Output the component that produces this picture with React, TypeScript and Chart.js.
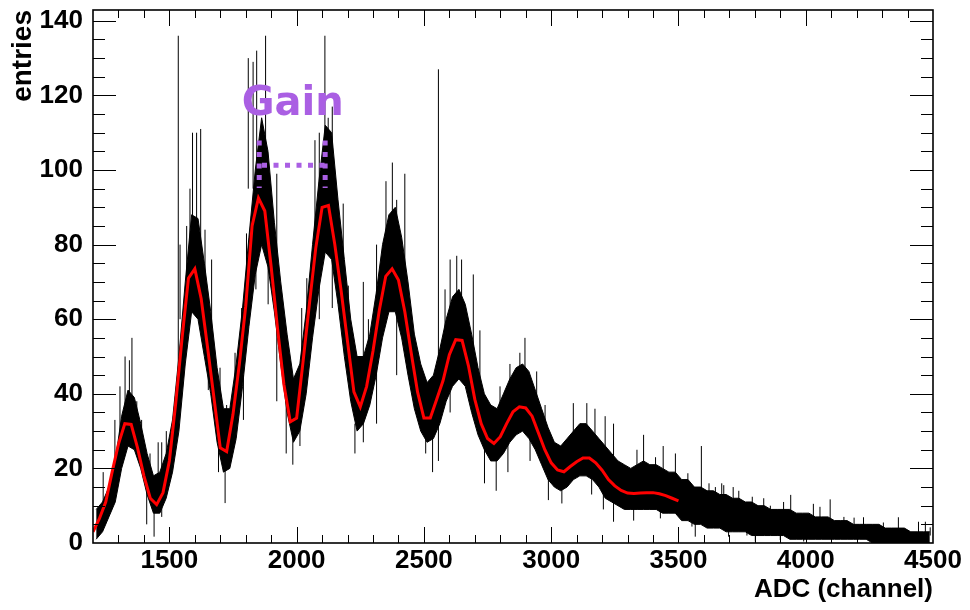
import React, { useEffect, useRef } from 'react';
import { Chart, registerables } from 'chart.js';

Chart.register(...registerables);

// ---------- axes ----------
const X_MIN = 1200;
const X_MAX = 4500;
const Y_MIN = 0;
const Y_MAX = 142.9;
const X_TICKS = [1500, 2000, 2500, 3000, 3500, 4000, 4500];
const Y_TICKS = [0, 20, 40, 60, 80, 100, 120, 140];
const X_MINOR_STEP = 100;
const X_MAJOR_STEP = 500;
const Y_MINOR_STEP = 5;
const Y_MAJOR_STEP = 20;
const X_TITLE = 'ADC (channel)';
const Y_TITLE = 'entries';

// ---------- histogram: envelope of the noisy spectrum, 25-channel bins from 1200 ----------
const BIN_START = 1200;
const BIN_WIDTH = 25;
const bandLow = [
  1, 3, 7, 11, 20, 26, 25, 20, 13, 8,
  8, 12, 19, 30, 48, 62, 60, 50, 40, 27,
  19, 20, 28, 42, 58, 72, 80, 74, 62, 48,
  35, 27, 30, 40, 55, 68, 78, 76, 64, 50,
  38, 30, 32, 37, 45, 55, 62, 62, 55, 45,
  36, 30, 27, 28, 32, 38, 42, 44, 42, 35,
  29, 25, 22, 22, 24, 27, 29, 30, 28, 25,
  21, 17, 15, 14, 15, 17, 18, 18, 17, 15,
  12, 11, 10, 9, 9, 9, 9, 9, 9, 8,
  8, 8, 6, 6, 5, 5, 4, 4, 4, 3,
  3, 3, 3, 2, 2, 2, 2, 2, 2, 1,
  1, 1, 1, 1, 1, 1, 1, 1, 1, 1,
  1, 1, 0, 0, 0, 0, 0, 0, 0, 0,
  0, 0,
];
const bandHigh = [
  9, 11, 15, 22, 34, 41, 39, 32, 24, 18,
  19, 24, 33, 50, 70, 88, 87, 75, 62, 47,
  36, 36, 48, 63, 82, 100, 114, 105, 86, 70,
  56, 44, 48, 62, 80, 97, 112, 110, 92, 76,
  60, 50, 50, 56, 67, 80, 88, 90, 82, 70,
  56, 48, 43, 45, 52, 60, 66, 68, 64, 56,
  47, 40, 37, 36, 40, 44, 47, 48, 46, 41,
  36, 31, 27, 26, 28, 30, 32, 32, 30, 28,
  26, 24, 22, 21, 20, 21, 22, 21, 21, 20,
  19, 19, 17, 17, 15, 15, 14, 14, 13, 13,
  12, 12, 11, 11, 10, 10, 9, 9, 9, 9,
  8, 8, 8, 7, 7, 7, 6, 6, 6, 5,
  5, 5, 5, 5, 4, 4, 4, 4, 3, 3,
  3, 3,
];

// ---------- single-channel spikes sticking out of the envelope ----------
const spikeChannel = [
  1240, 1286, 1306, 1326, 1343, 1353, 1372, 1391, 1411, 1424,
  1440, 1456, 1470, 1488, 1535, 1542, 1568, 1581, 1591, 1607,
  1623, 1640, 1653, 1666, 1693, 1699, 1719, 1725, 1758, 1784,
  1791, 1803, 1810, 1829, 1840, 1843, 1878, 1888, 1922, 1959,
  1985, 2013, 2020, 2040, 2072, 2089, 2111, 2124, 2140, 2183,
  2203, 2229, 2262, 2282, 2314, 2351, 2376, 2393, 2425, 2472,
  2507, 2534, 2557, 2583, 2603, 2629, 2648, 2694, 2720, 2738,
  2784, 2799, 2830, 2838, 2877, 2897, 2917, 2943, 2976, 2989,
  3042, 3087, 3140, 3159, 3172, 3205, 3212, 3245, 3324, 3337,
  3363, 3410, 3429, 3440, 3488, 3537, 3553, 3566, 3590, 3620,
  3645, 3670, 3678, 3697, 3715, 3737, 3769, 3790, 3802, 3835,
  3861, 3900, 3913, 3941, 3992, 4030, 4056, 4096, 4150, 4190,
  4227, 4305, 4364, 4443, 4470, 4489,
];
const spikeLow = [
  8, 18, 28, 35, 36, 38, 30, 24, 5, 17,
  1.7, 18, 7, 22, 40, 60, 68, 80, 85, 85,
  75, 70, 41, 55, 19, 35, 10.7, 30, 40, 50,
  33, 70, 95, 95, 68, 100, 95, 64, 38, 24,
  21, 26, 48, 55, 80, 60, 95, 90, 63, 75,
  55, 24, 27, 50, 32, 75, 80, 45, 60, 42,
  24, 19, 22, 50, 35, 55, 55, 50, 38, 16,
  14, 35, 19, 40, 40, 40, 22, 36, 28, 11.5,
  10.6, 25, 25, 13, 25, 9, 22, 5.7, 6, 18,
  18, 18, 6.6, 18, 17, 14, 4.4, 1.7, 12, 5,
  11, 5, 11, 1.7, 4, 10, 2, 3, 0.4, 2,
  7, 0.8, 7, 7, 0.4, 2, 6, 5, 2, 1,
  4, 1, 3, 2, 1, 2,
];
const spikeHigh = [
  19, 33, 42, 50, 49, 55, 38, 33, 14, 24,
  10, 27, 27, 30, 136, 80, 85, 95, 110, 110,
  111, 84, 55, 76, 30, 47, 22, 37, 51, 63,
  45, 83, 130, 129, 82, 132, 136, 76, 99, 40,
  30, 35, 63, 71, 108, 110, 136, 114, 117, 91,
  69, 32, 70, 60, 80, 97, 102, 92, 99, 51,
  30, 30, 127, 68, 76, 77, 76, 72, 57, 27,
  25, 42, 30, 48, 51, 55, 30, 46, 37, 20,
  18, 37.5, 37.5, 20, 36, 15, 34, 32, 12, 25,
  29, 23, 12, 26, 24, 18.7, 8, 7, 26, 16,
  15, 16, 15.5, 5, 15, 14, 5, 12.4, 4, 12,
  10, 4, 11, 12.9, 3, 10.5, 9.7, 11.7, 7, 6.8,
  6.9, 5.5, 6.9, 5.7, 5.7, 4.2,
];

// ---------- fitted multi-gaussian (red), sampled every 25 channels ----------
const FIT_START = 1200;
const FIT_STEP = 25;
const fitValues = [
  3, 6.5, 11, 19, 26.5, 32, 31.8, 25.5, 18, 12,
  10.3, 13.5, 22, 37.5, 55, 71, 73.5, 65.5, 52.5, 39,
  25.5, 24.5, 34.5, 48, 63.5, 85, 92.5, 89, 74, 57.5,
  42.5, 32.5, 33.5, 48.5, 64, 79, 90, 90.5, 80, 67.5,
  54, 40.5, 36.5, 42, 51.5, 62.5, 71.5, 73.5, 70.5, 62,
  51, 40.5, 33.5, 33.5, 38.5, 43.5, 50.5, 54.5, 54.3, 47.5,
  38.5, 32, 28, 26.7, 28.5, 32, 35.2, 36.5, 36.2, 34,
  29.5, 25, 21.5, 19.6, 19.1, 20.5, 21.8, 22.8, 22.8, 21.5,
  19.5, 17, 15.3, 14.1, 13.4, 13.3, 13.4, 13.5, 13.5, 13.2,
  12.7, 12, 11.3,
];

// ---------- "Gain" annotation ----------
const GAIN_TEXT = 'Gain';
const GAIN_PEAK_A = 1853;
const GAIN_PEAK_B = 2112;
const GAIN_BAR_START = 1864;
const GAIN_MARK_BOTTOM = 95.2;
const GAIN_MARK_TOP = 107.9;
const GAIN_BAR_Y = 101.3;
const GAIN_TEXT_X = 1784;
const GAIN_TEXT_Y = 114.7;
const GAIN_COLOR = '#aa5fe3';

const LABEL_FONT = '"Liberation Sans", Arial, Helvetica, sans-serif';

const binCenter = (i: number) => BIN_START + BIN_WIDTH * i + BIN_WIDTH / 2;
const bandHighData = bandHigh.map((v, i) => ({ x: binCenter(i), y: v }));
const bandLowData = bandLow.map((v, i) => ({ x: binCenter(i), y: v }));
const spikeData: { x: number; y: number | null }[] = [];
spikeChannel.forEach((c, i) => {
  spikeData.push({ x: c, y: spikeLow[i] }, { x: c, y: spikeHigh[i] }, { x: c, y: null });
});
const fitData = fitValues.map((v, i) => ({ x: FIT_START + FIT_STEP * i, y: v }));

const rootFrame = {
  id: 'rootFrame',
  afterDatasetsDraw(chart: any) {
    const { ctx, chartArea: a, scales } = chart;
    const xs = scales.x;
    const ys = scales.y;
    ctx.save();
    ctx.strokeStyle = '#000';
    ctx.lineWidth = 1;
    ctx.beginPath();
    for (let v = X_MIN + X_MINOR_STEP; v < X_MAX; v += X_MINOR_STEP) {
      const px = Math.round(xs.getPixelForValue(v)) + 0.5;
      const len = v % X_MAJOR_STEP === 0 ? 16 : 8;
      ctx.moveTo(px, a.bottom);
      ctx.lineTo(px, a.bottom - len);
      ctx.moveTo(px, a.top);
      ctx.lineTo(px, a.top + len);
    }
    for (let v = Y_MIN + Y_MINOR_STEP; v < Y_MAX; v += Y_MINOR_STEP) {
      const py = Math.round(ys.getPixelForValue(v)) + 0.5;
      const len = v % Y_MAJOR_STEP === 0 ? 23 : 12;
      ctx.moveTo(a.left, py);
      ctx.lineTo(a.left + len, py);
      ctx.moveTo(a.right, py);
      ctx.lineTo(a.right - len, py);
    }
    ctx.stroke();
    ctx.lineWidth = 1.6;
    ctx.strokeRect(a.left, a.top, a.right - a.left, a.bottom - a.top);

    ctx.fillStyle = GAIN_COLOR;
    ctx.font = 'bold 40px "DejaVu Sans"';
    ctx.textAlign = 'left';
    ctx.textBaseline = 'alphabetic';
    ctx.fillText(GAIN_TEXT, xs.getPixelForValue(GAIN_TEXT_X), ys.getPixelForValue(GAIN_TEXT_Y));
    ctx.restore();
  },
};

export default function App() {
  const ref = useRef<HTMLCanvasElement>(null);
  useEffect(() => {
    const canvas = ref.current;
    if (!canvas) return;
    const dotted = {
      type: 'line' as const,
      borderColor: GAIN_COLOR,
      borderWidth: 5,
      borderDash: [5, 6.5],
      borderCapStyle: 'butt' as const,
      pointRadius: 0,
      fill: false,
      order: 0,
    };
    const chart = new Chart(canvas, {
      type: 'line',
      data: {
        datasets: [
          {
            data: bandHighData as any,
            borderColor: '#000',
            backgroundColor: '#000',
            borderWidth: 1,
            pointRadius: 0,
            tension: 0,
            fill: '+1',
            order: 3,
          },
          {
            data: bandLowData as any,
            borderColor: '#000',
            borderWidth: 1,
            pointRadius: 0,
            tension: 0,
            fill: false,
            order: 3,
          },
          {
            data: spikeData as any,
            borderColor: '#000',
            borderWidth: 1,
            pointRadius: 0,
            spanGaps: false,
            fill: false,
            order: 2,
          },
          {
            data: fitData as any,
            borderColor: '#ff0000',
            borderWidth: 3,
            pointRadius: 0,
            tension: 0,
            fill: false,
            order: 1,
          },
          { ...dotted, data: [{ x: GAIN_PEAK_A, y: GAIN_MARK_TOP }, { x: GAIN_PEAK_A, y: GAIN_MARK_BOTTOM }] as any },
          { ...dotted, data: [{ x: GAIN_PEAK_B, y: GAIN_MARK_TOP }, { x: GAIN_PEAK_B, y: GAIN_MARK_BOTTOM }] as any },
          { ...dotted, data: [{ x: GAIN_BAR_START, y: GAIN_BAR_Y }, { x: GAIN_PEAK_B, y: GAIN_BAR_Y }] as any },
        ] as any,
      },
      options: {
        animation: false,
        responsive: false,
        events: [],
        layout: { padding: { left: 0, right: 37, top: 10, bottom: 0 } },
        plugins: { legend: { display: false }, tooltip: { enabled: false } },
        scales: {
          x: {
            type: 'linear',
            min: X_MIN,
            max: X_MAX,
            offset: false,
            grid: { display: false, drawTicks: false, offset: false },
            border: { display: false },
            afterBuildTicks: (s: any) => {
              s.ticks = X_TICKS.map((v) => ({ value: v }));
            },
            afterFit: (s: any) => {
              s.height = 67;
              s.paddingLeft = 0;
              s.paddingRight = 0;
            },
            ticks: {
              color: '#000',
              padding: 2,
              maxRotation: 0,
              autoSkip: false,
              font: { family: LABEL_FONT, size: 26, weight: 'bold' },
              callback: (v: any) => String(v),
            },
            title: {
              display: true,
              text: X_TITLE,
              align: 'end',
              color: '#000',
              padding: { top: 0, bottom: 5 },
              font: { family: LABEL_FONT, size: 26, weight: 'bold' },
            },
          },
          y: {
            type: 'linear',
            min: Y_MIN,
            max: Y_MAX,
            stacked: false,
            grid: { display: false, drawTicks: false },
            border: { display: false },
            afterBuildTicks: (s: any) => {
              s.ticks = Y_TICKS.map((v) => ({ value: v }));
            },
            afterFit: (s: any) => {
              s.width = 93;
              s.paddingTop = 0;
              s.paddingBottom = 0;
            },
            ticks: {
              color: '#000',
              padding: 10,
              autoSkip: false,
              font: { family: LABEL_FONT, size: 26, weight: 'bold' },
              callback: (v: any) => String(v),
            },
            title: {
              display: true,
              text: Y_TITLE,
              align: 'end',
              color: '#000',
              padding: { top: 6, bottom: 0 },
              font: { family: LABEL_FONT, size: 28, weight: 'bold' },
            },
          },
        },
      } as any,
      plugins: [rootFrame],
    });
    return () => chart.destroy();
  }, []);
  return (
    <div style={{ position: 'absolute', left: 0, top: 0, width: 970, height: 610, background: '#fff' }}>
      <canvas ref={ref} width={970} height={610} style={{ display: 'block' }} />
    </div>
  );
}
